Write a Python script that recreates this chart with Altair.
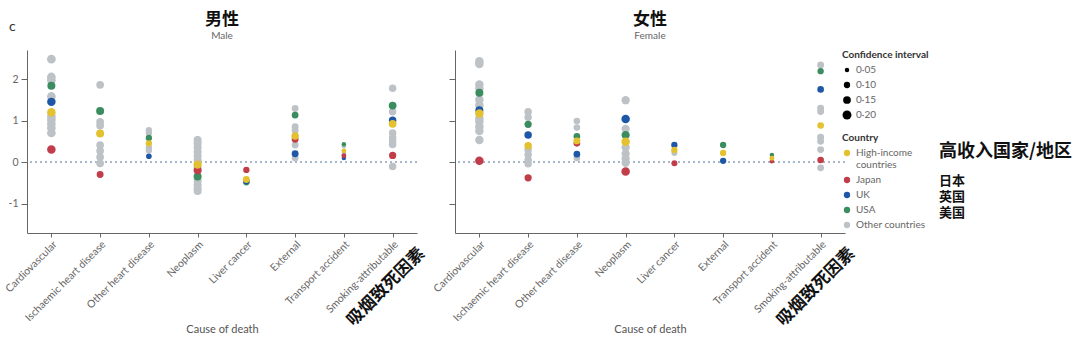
import altair as alt
import pandas as pd

CAUSES = ["Cardiovascular", "Ischaemic heart disease", "Other heart disease", "Neoplasm",
          "Liver cancer", "External", "Transport accident", "Smoking-attributable"]
COUNTRIES = ["High-income countries", "Japan", "UK", "USA", "Other countries"]
COLORS = ["#E3C12F", "#C23D4A", "#1E57A6", "#3B8C5E", "#BDC2C7"]
CI_TICKS = [0.05, 0.10, 0.15, 0.20]

# ---- Male ----
M_HIGH_INCOME = [1.20, 0.69, 0.45, -0.06, -0.42, 0.63, 0.27, 0.92]
M_HIGH_INCOME_CI = [0.18, 0.16, 0.10, 0.17, 0.12, 0.14, 0.06, 0.15]
M_JAPAN = [0.30, -0.30, None, -0.20, -0.19, 0.55, 0.15, 0.16]
M_JAPAN_CI = [0.18, 0.12, None, 0.16, 0.10, 0.12, 0.06, 0.13]
M_UK = [1.45, None, 0.14, None, -0.46, 0.20, 0.10, 1.01]
M_UK_CI = [0.18, None, 0.08, None, 0.10, 0.12, 0.05, 0.14]
M_USA = [1.84, 1.23, 0.58, -0.35, -0.49, 1.13, 0.43, 1.36]
M_USA_CI = [0.16, 0.16, 0.10, 0.16, 0.10, 0.11, 0.05, 0.15]
M_OTHER = [[2.48, 2.05, 1.97, 1.58, 1.10, 1.02, 0.92, 0.82, 0.70],
           [1.86, 0.97, 0.88, 0.41, 0.27, 0.12, -0.03],
           [0.77, 0.70, 0.35, 0.28],
           [0.53, 0.45, 0.35, 0.25, 0.15, 0.05, -0.12, -0.45, -0.55, -0.63, -0.70],
           [],
           [1.29, 0.85, 0.76, 0.41, 0.10],
           [0.38, 0.22],
           [1.78, 1.21, 0.70, 0.58, 0.50, 0.42, -0.11]]
M_OTHER_CI = [0.19, 0.15, 0.10, 0.16, 0.10, 0.12, 0.05, 0.14]

# ---- Female ----
F_HIGH_INCOME = [1.17, 0.39, 0.51, 0.49, 0.29, 0.22, 0.09, 0.88]
F_HIGH_INCOME_CI = [0.18, 0.14, 0.12, 0.18, 0.10, 0.10, 0.06, 0.11]
F_JAPAN = [0.03, -0.38, 0.45, -0.23, -0.03, None, 0.02, 0.05]
F_JAPAN_CI = [0.18, 0.13, 0.11, 0.18, 0.09, None, 0.05, 0.11]
F_UK = [1.25, 0.65, 0.19, 1.04, 0.41, 0.03, None, 1.75]
F_UK_CI = [0.16, 0.14, 0.11, 0.18, 0.10, 0.10, None, 0.11]
F_USA = [1.67, 0.91, 0.62, 0.65, None, 0.41, 0.17, 2.19]
F_USA_CI = [0.16, 0.13, 0.11, 0.17, None, 0.10, 0.05, 0.10]
F_OTHER = [[2.43, 2.36, 1.87, 1.78, 1.50, 1.37, 1.05, 0.97, 0.85, 0.75, 0.53],
           [1.21, 1.08, 0.30, 0.18, 0.05, -0.04],
           [0.99, 0.83, 0.10],
           [1.49, 0.80, 0.35, 0.20, 0.08, -0.02],
           [0.22],
           [],
           [],
           [2.34, 1.30, 1.22, 0.60, 0.50, 0.30, -0.14]]
F_OTHER_CI = [0.18, 0.14, 0.11, 0.17, 0.09, 0.10, 0.05, 0.12]

W, H = 390, 183
CJK = "Noto Sans CJK SC"
LAT = "Lato"


def build_df(other, other_ci, usa, usa_ci, uk, uk_ci, jp, jp_ci, hi, hi_ci):
    rows = []
    for i, c in enumerate(CAUSES):
        for v in other[i]:
            rows.append((c, "Other countries", v, other_ci[i]))
    for name, vals, cis in [("USA", usa, usa_ci), ("UK", uk, uk_ci),
                            ("Japan", jp, jp_ci), ("High-income countries", hi, hi_ci)]:
        for i, c in enumerate(CAUSES):
            if vals[i] is not None:
                rows.append((c, name, vals[i], cis[i]))
    return pd.DataFrame(rows, columns=["cause", "country", "value", "ci"])


male = build_df(M_OTHER, M_OTHER_CI, M_USA, M_USA_CI, M_UK, M_UK_CI,
                M_JAPAN, M_JAPAN_CI, M_HIGH_INCOME, M_HIGH_INCOME_CI)
female = build_df(F_OTHER, F_OTHER_CI, F_USA, F_USA_CI, F_UK, F_UK_CI,
                  F_JAPAN, F_JAPAN_CI, F_HIGH_INCOME, F_HIGH_INCOME_CI)

y_scale = alt.Scale(domain=[-1.71, 2.70], nice=False, zero=False)
x_scale = alt.Scale(domain=CAUSES, type="point", padding=0.5)

size_legend = alt.Legend(title="Confidence interval", values=CI_TICKS, orient="none",
                         legendX=815, legendY=0, symbolFillColor="black", symbolStrokeWidth=0,
                         labelExpr="replace(format(datum.value, '.2f'), '.', '·')")
color_legend = alt.Legend(title="Country", orient="none", legendX=815, legendY=83,
                          symbolSize=40, symbolStrokeWidth=0,
                          labelExpr="datum.label == 'High-income countries' ? ['High-income', 'countries'] : datum.label")


def text_layer(t, x, y, **kw):
    return alt.Chart(pd.DataFrame({"t": [t]})).mark_text(**kw).encode(
        x=alt.value(x), y=alt.value(y), text="t:N")


def panel(df, title, subtitle, show_y, cn_x):
    yaxis = alt.Axis(values=[-1, 0, 1, 2], title=None, tickSize=6, labels=show_y,
                     labelExpr="'' + datum.value", labelPadding=3)
    xaxis = alt.Axis(title="Cause of death", labelAngle=-45, tickSize=4, labelPadding=2,
                     titlePadding=0)
    rule = alt.Chart(df).mark_rule(color="#A8B8CC", strokeDash=[2, 3], strokeWidth=1).encode(
        y=alt.datum(0, scale=y_scale, axis=yaxis))
    pts = alt.Chart(df).mark_circle(opacity=1).encode(
        x=alt.X("cause:N", scale=x_scale, axis=xaxis),
        y=alt.Y("value:Q", scale=y_scale, axis=yaxis),
        color=alt.Color("country:N", scale=alt.Scale(domain=COUNTRIES, range=COLORS),
                        legend=color_legend),
        size=alt.Size("ci:Q", scale=alt.Scale(domain=[0, 0.2], range=[0, 80]),
                      legend=size_legend),
    )
    cn = text_layer("吸烟致死因素", cn_x, H + 18, angle=315, align="right", baseline="middle",
                    font=CJK, fontSize=17, fontWeight="bold", color="#111")
    t1 = text_layer(title, W / 2, -30, align="center", baseline="middle", font=CJK,
                    fontSize=17, fontWeight="bold", color="#111")
    t2 = text_layer(subtitle, W / 2, -14, align="center", baseline="middle", font=LAT,
                    fontSize=10, color="#666")
    layers = [rule, pts, cn, t1, t2]
    if show_y:
        layers.append(text_layer("c", -18, -23, align="left", baseline="middle", font=LAT,
                                 fontSize=14, color="#333"))
    return layers


CN_LEGEND = ["高收入国家/地区", "日本", "英国", "美国"]
CN_LEGEND_Y = [102, 130.5, 146.5, 162.5]

left = alt.layer(*panel(male, "男性", "Male", True, 395)).properties(width=W, height=H)
cn_layers = [text_layer(t, 484, yy, align="left", baseline="middle", font=CJK,
                        fontSize=18 if i == 0 else 13, fontWeight="bold", color="#111")
             for i, (t, yy) in enumerate(zip(CN_LEGEND, CN_LEGEND_Y))]
right = alt.layer(*panel(female, "女性", "Female", False, 397), *cn_layers).properties(
    width=W, height=H)

chart = alt.hconcat(left, right, spacing=3).resolve_scale(
    color="shared", size="shared").resolve_legend(color="shared", size="shared").properties(
    padding={"left": 3, "top": 11, "right": 2, "bottom": 5}
).configure_view(stroke=None).configure_axis(
    domainColor="#666", tickColor="#666", labelColor="#666", titleColor="#555",
    labelFont=LAT, titleFont=LAT, labelFontSize=10.5, titleFontSize=11,
    titleFontWeight="normal", grid=False
).configure_legend(
    titleFont=LAT, titleFontSize=10, titleColor="#333", titleFontWeight="bold",
    labelFont=LAT, labelFontSize=10, labelColor="#666", rowPadding=5, padding=0,
    symbolType="circle"
)

chart.save("out.html", embed_options={"renderer": "svg", "actions": False})
